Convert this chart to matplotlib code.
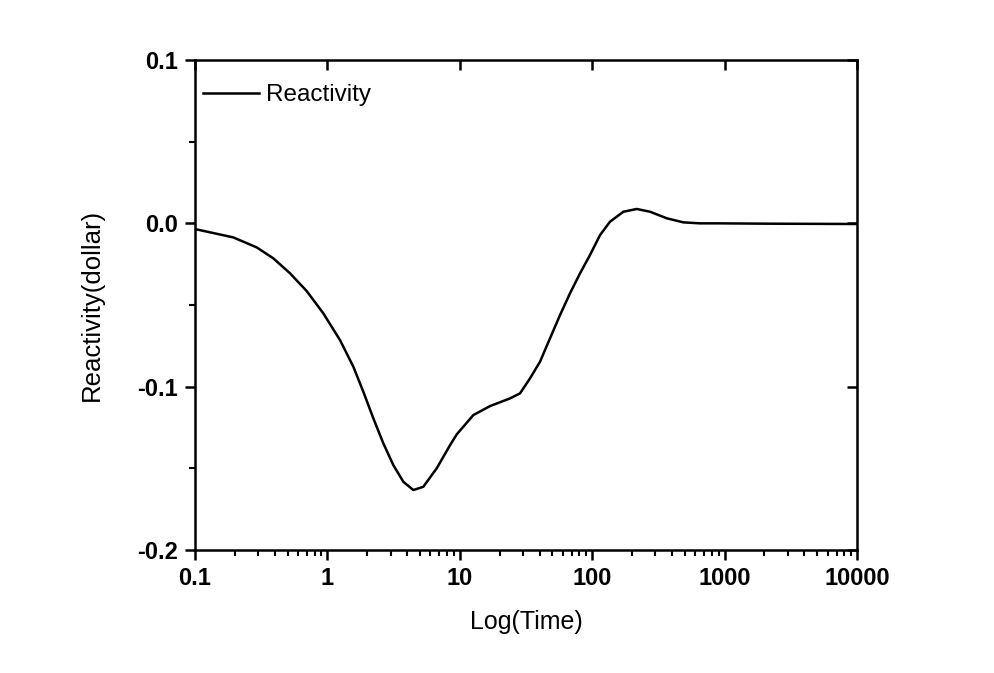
import numpy as np
import matplotlib.pyplot as plt
from matplotlib.ticker import LogLocator, NullLocator, MultipleLocator, FixedLocator

plt.rcParams['font.family'] = ['Liberation Sans', 'DejaVu Sans']

# values
time = [0.1, 0.1945, 0.292, 0.390, 0.522, 0.698, 0.931, 1.245, 1.570, 1.867,
        2.222, 2.644, 3.145, 3.742, 4.454, 5.30, 6.69, 8.44, 9.48, 12.65,
        16.9, 23.9, 28.5, 33.9, 40.3, 48.0, 57.1, 67.9, 80.9, 96.2, 114.5,
        136.2, 171.8, 216.8, 273.5, 365.5, 487.7, 651.6, 922.0, 2000.0,
        10000.0]
reactivity = [-0.0035, -0.0086, -0.0147, -0.0214, -0.0306, -0.0415, -0.0551,
              -0.0715, -0.0878, -0.1031, -0.1194, -0.1347, -0.148, -0.1582,
              -0.1633, -0.1613, -0.150, -0.1358, -0.1292, -0.1174, -0.1119,
              -0.1072, -0.1041, -0.0949, -0.0848, -0.0704, -0.0562, -0.0429,
              -0.0306, -0.0194, -0.0072, 0.001, 0.0071, 0.0088, 0.0071,
              0.0031, 0.0006, 0.0, 0.0, -0.0002, -0.0004]
xticks = [0.1, 1, 10, 100, 1000, 10000]
xticklabels = ['0.1', '1', '10', '100', '1000', '10000']
yticks = [-0.2, -0.1, 0.0, 0.1]
yticklabels = ['-0.2', '-0.1', '0.0', '0.1']

fig = plt.figure(figsize=(9.94, 6.73), dpi=100)
ax = fig.add_axes([0.1962, 0.1828, 0.666, 0.728])

ax.plot(time, reactivity, color='black', lw=1.8, label='Reactivity',
        solid_joinstyle='round')
ax.set_xscale('log')
ax.set_xlim(0.1, 10000)
ax.set_ylim(-0.2, 0.1)

ax.set_xticks(xticks)
ax.set_xticklabels(xticklabels)
ax.xaxis.set_minor_locator(LogLocator(base=10, subs=np.arange(2, 10)))
ax.set_yticks(yticks)
ax.set_yticklabels(yticklabels)
ax.yaxis.set_minor_locator(MultipleLocator(0.05))

for s in ax.spines.values():
    s.set_linewidth(1.8)

ax.tick_params(which='major', direction='out', length=7, width=1.8,
               labelsize=17, pad=5)
ax.tick_params(which='minor', direction='out', length=4, width=1.5)
for lab in ax.get_xticklabels() + ax.get_yticklabels():
    lab.set_fontweight('bold')

# inward major ticks on top and right
top = ax.secondary_xaxis('top')
top.xaxis.set_major_locator(FixedLocator(xticks))
top.xaxis.set_minor_locator(NullLocator())
top.tick_params(direction='in', length=7, width=1.8, labeltop=False)
top.spines['top'].set_visible(False)

right = ax.secondary_yaxis('right')
right.yaxis.set_major_locator(FixedLocator(yticks))
right.yaxis.set_minor_locator(NullLocator())
right.tick_params(direction='in', length=7, width=1.8, labelright=False)
right.spines['right'].set_visible(False)

ax.set_xlabel('Log(Time)', fontsize=18, labelpad=15)
ax.set_ylabel('Reactivity(dollar)', fontsize=18.5, labelpad=24)

ax.legend(loc='upper left', bbox_to_anchor=(0.012, 0.951), frameon=False,
          fontsize=17.5, handlelength=2.3, handletextpad=0.3,
          borderaxespad=0, borderpad=0)

fig.savefig('out.png', dpi=100)
